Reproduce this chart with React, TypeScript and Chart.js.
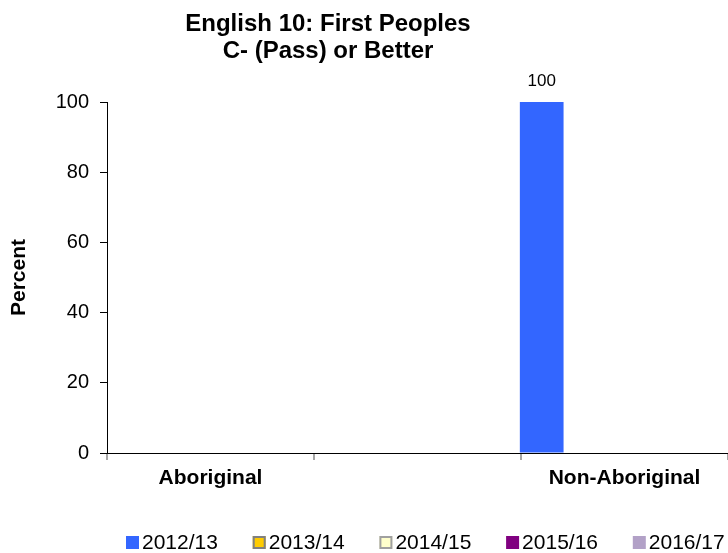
import React, { useEffect, useRef } from "react";
import { Chart, registerables } from "chart.js";

Chart.register(...registerables);

const FONT = "'Liberation Sans', Arial, Helvetica, sans-serif";

// ---- data ----
const categories = ["Aboriginal", "", "Non-Aboriginal"];
const seriesNames = ["2012/13", "2013/14", "2014/15", "2015/16", "2016/17"];
const values201213: (number | null)[] = [null, null, 100];
const values201314: (number | null)[] = [null, null, null];
const values201415: (number | null)[] = [null, null, null];
const values201516: (number | null)[] = [null, null, null];
const values201617: (number | null)[] = [null, null, null];
const seriesValues = [values201213, values201314, values201415, values201516, values201617];
const seriesColors = ["#3366FF", "#FFCC00", "#FFFFCC", "#800080", "#B2A1C7"];
const seriesBorders: (string | null)[] = [null, "#808080", "#A0A0A0", null, null];
const yTicks = [0, 20, 40, 60, 80, 100];
const titleLines = ["English 10: First Peoples", "C- (Pass) or Better"];
const yTitle = "Percent";

const titlePlugin = {
  id: "customTitle",
  afterDraw(chart: any) {
    const ctx = chart.ctx;
    ctx.save();
    ctx.font = `bold 24px ${FONT}`;
    ctx.fillStyle = "#000";
    ctx.textAlign = "center";
    ctx.textBaseline = "alphabetic";
    ctx.fillText(titleLines[0], 328, 31);
    ctx.fillText(titleLines[1], 328, 58);
    ctx.restore();
  },
};

const legendPlugin = {
  id: "customLegend",
  afterDraw(chart: any) {
    const ctx = chart.ctx;
    const startX = 126;
    const step = 126.7;
    const top = 536;
    const size = 13;
    ctx.save();
    chart.data.datasets.forEach((ds: any, i: number) => {
      const x = startX + i * step;
      ctx.fillStyle = ds.backgroundColor;
      ctx.fillRect(x, top, size, size);
      if (ds.legendBorder) {
        ctx.strokeStyle = ds.legendBorder;
        ctx.lineWidth = 2;
        ctx.strokeRect(x + 1, top + 1, size - 2, size - 2);
      }
      ctx.fillStyle = "#000";
      ctx.font = `21px ${FONT}`;
      ctx.textAlign = "left";
      ctx.textBaseline = "alphabetic";
      ctx.fillText(ds.label, x + 16, 549);
    });
    ctx.restore();
  },
};

const valueLabelPlugin = {
  id: "valueLabels",
  afterDatasetsDraw(chart: any) {
    const ctx = chart.ctx;
    ctx.save();
    ctx.font = `17px ${FONT}`;
    ctx.fillStyle = "#000";
    ctx.textAlign = "center";
    ctx.textBaseline = "middle";
    chart.data.datasets.forEach((ds: any, i: number) => {
      const meta = chart.getDatasetMeta(i);
      meta.data.forEach((bar: any, j: number) => {
        const v = ds.data[j];
        if (v === null || v === undefined) return;
        ctx.fillText(String(v), bar.x, bar.y - 21);
      });
    });
    ctx.restore();
  },
};

export default function App() {
  const canvasRef = useRef<HTMLCanvasElement | null>(null);

  useEffect(() => {
    if (!canvasRef.current) return;
    Chart.defaults.font.family = FONT;
    const chart = new Chart(canvasRef.current, {
      type: "bar",
      data: {
        labels: categories,
        datasets: seriesNames.map((name, i) => ({
          label: name,
          data: seriesValues[i],
          backgroundColor: seriesColors[i],
          borderColor: seriesBorders[i] || seriesColors[i],
          borderWidth: seriesBorders[i] ? 1 : 0,
          legendBorder: seriesBorders[i],
          categoryPercentage: 1,
          barPercentage: 1.056,
        })) as any,
      },
      options: {
        animation: false,
        responsive: false,
        devicePixelRatio: 1,
        layout: { padding: { top: 102, left: 0, right: 0, bottom: 0 } },
        plugins: {
          legend: { display: false },
          title: { display: false },
          tooltip: { enabled: false },
        },
        scales: {
          x: {
            type: "category",
            offset: true,
            grid: {
              display: true,
              offset: true,
              drawOnChartArea: false,
              drawTicks: true,
              tickLength: 7,
              tickColor: "#A6A6A6",
              color: "#A6A6A6",
              lineWidth: 2,
            },
            border: { display: true, color: "#000", width: 1 },
            ticks: {
              color: "#000",
              font: { family: FONT, size: 21, weight: "bold" },
              padding: 6,
              maxRotation: 0,
              minRotation: 0,
              autoSkip: false,
            },
            afterFit(scale: any) {
              scale.height = 100;
            },
          },
          y: {
            min: 0,
            max: 100,
            afterBuildTicks(scale: any) {
              scale.ticks = yTicks.map((v) => ({ value: v }));
            },
            ticks: {
              color: "#000",
              font: { family: FONT, size: 20 },
              padding: 11,
            },
            grid: {
              display: true,
              drawOnChartArea: false,
              drawTicks: true,
              tickLength: 7,
              tickColor: "#000",
              color: "#000",
            },
            border: { display: true, color: "#000", width: 1 },
            title: {
              display: true,
              text: yTitle,
              color: "#000",
              font: { family: FONT, size: 21, weight: "bold" },
              padding: { top: 7, bottom: 0 },
            },
            afterFit(scale: any) {
              scale.width = 107;
            },
          },
        },
      } as any,
      plugins: [titlePlugin, legendPlugin, valueLabelPlugin],
    });
    return () => chart.destroy();
  }, []);

  return (
    <div
      style={{
        position: "absolute",
        left: 0,
        top: 0,
        width: 728,
        height: 553,
        background: "#fff",
        overflow: "hidden",
      }}
    >
      <canvas ref={canvasRef} width={728} height={553} style={{ display: "block" }} />
    </div>
  );
}
